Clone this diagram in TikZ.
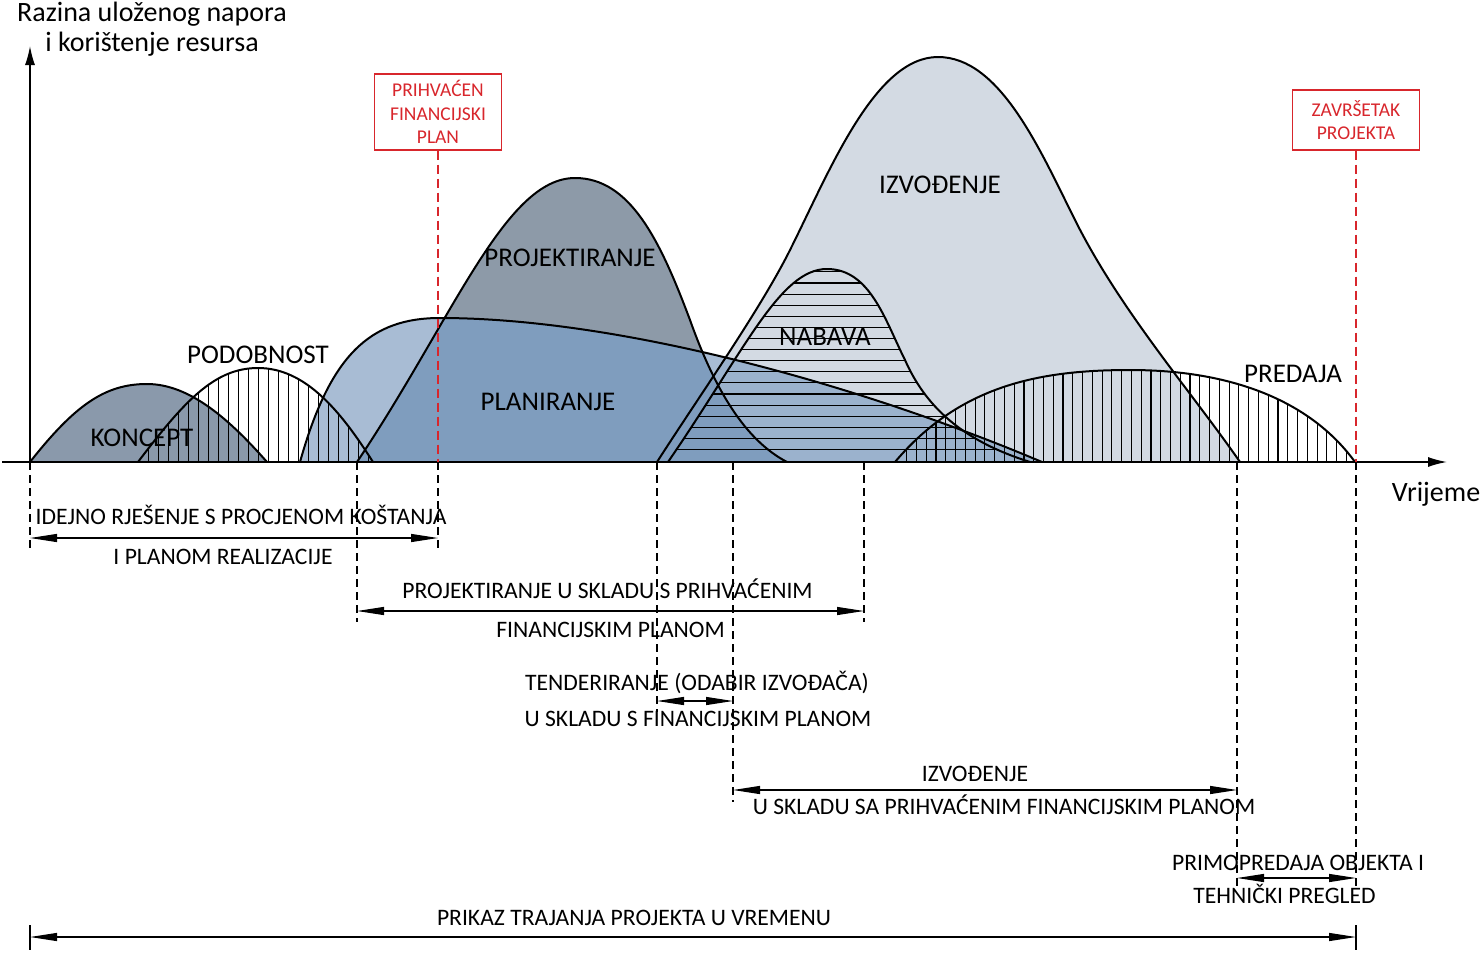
\documentclass[tikz,border=0pt]{standalone}
\usepackage{fontspec}
\setmainfont{Carlito}
\usetikzlibrary{arrows.meta}
\definecolor{konC}{HTML}{8A99AB}
\definecolor{projC}{HTML}{8D9AA8}
\definecolor{planC}{HTML}{A8BCD4}
\definecolor{ovlC}{HTML}{7F9DBE}
\definecolor{izvC}{HTML}{D3DAE3}
\definecolor{planizvC}{HTML}{9BB2CD}
\definecolor{redC}{HTML}{D8262C}
\newcommand\myBig{\fontsize{27}{32}\selectfont}
\newcommand\myDim{\fontsize{23.6}{28}\selectfont}
\newcommand\myRed{\fontsize{19.5}{23.5}\selectfont}
\newcommand\myAx{\fontsize{28}{30}\selectfont}
\begin{document}
\begin{tikzpicture}[x=1pt,y=-1pt,
  curve/.style={line width=2pt, line join=round},
  hatch/.style={line width=1.1pt},
  vdash/.style={line width=1.1pt, dash pattern=on 8pt off 5pt},
  reddash/.style={line width=1.2pt, dash pattern=on 9pt off 5pt, draw=redC},
  redbox/.style={draw=redC, line width=1.3pt, text=redC, minimum width=127pt, align=center, font=\myRed, inner sep=0pt},
  dimarr/.style={line width=1.2pt, {Triangle[length=27pt,width=8pt]}-{Triangle[length=27pt,width=8pt]}},
  dimtxt/.style={font=\myDim, inner sep=0pt, text height=15.2pt, text depth=0pt},
  biglbl/.style={font=\myBig, inner sep=0pt, text height=17.4pt, text depth=0pt},
  axlbl/.style={font=\myAx, inner sep=0pt, anchor=base},
  axisarr/.style={line width=1.5pt, -{Latex[length=19pt,width=10pt]}},
  tick/.style={line width=1.2pt}]
\useasboundingbox (0,0) rectangle (1480,953);
\def\pKon{(30,462) .. controls (75,405) and (105,384) .. (147,384) .. controls (190,384) and (230,420) .. (267,462)}
\def\pPod{(138,462) .. controls (185,400) and (215,368) .. (258,368) .. controls (305,368) and (340,410) .. (373,462)}
\def\pPlan{(300,462) .. controls (330,355) and (370,318) .. (440,318) .. controls (620,318) and (860,385) .. (1042,462)}
\def\pProj{(357,462) .. controls (453,319) and (505,178) .. (575,178) .. controls (630,178) and (660,240) .. (690,320) .. controls (715,390) and (745,440) .. (787,462)}
\def\pIzv{(657,462) .. controls (700,395) and (760,310) .. (790,250) .. controls (830,170) and (875,57) .. (938,57) .. controls (1000,57) and (1040,150) .. (1075,220) .. controls (1120,310) and (1190,390) .. (1240,462)}
\def\pNab{(668,462) .. controls (745,350) and (780,269) .. (827,269) .. controls (870,269) and (885,320) .. (905,360) .. controls (925,405) and (960,440) .. (1030,462)}
\def\pPred{(895,462) .. controls (960,385) and (1040,370) .. (1130,370) .. controls (1230,370) and (1310,400) .. (1355,462)}
% fills
\fill[izvC] \pIzv -- cycle;
\fill[projC] \pProj -- cycle;
\fill[planC] \pPlan -- cycle;
\begin{scope}
  \clip \pIzv -- cycle;
  \fill[planizvC] \pPlan -- cycle;
\end{scope}
\begin{scope}
  \clip \pProj -- cycle;
  \fill[ovlC] \pPlan -- cycle;
\end{scope}
\fill[konC] \pKon -- cycle;
% hatches
\begin{scope}
  \clip \pPod -- cycle;
  \foreach \i in {0,...,23} \draw[hatch] ({148.3+10*\i},340) -- ++(0,130);
\end{scope}
\begin{scope}
  \clip \pPred -- cycle;
  \foreach \i in {0,...,47} \draw[hatch] ({906.7+9.77*\i},350) -- ++(0,120);
\end{scope}
\begin{scope}
  \clip \pNab -- cycle;
  \foreach \i in {0,...,17} \draw[hatch] (640,{449.5-11.1*\i}) -- (1060,{449.5-11.1*\i});
\end{scope}
% outlines
\draw[curve] \pKon;
\draw[curve] \pPod;
\draw[curve] \pPlan;
\draw[curve] \pProj;
\draw[curve] \pIzv;
\draw[curve] \pNab;
\draw[curve] \pPred;
% axes
\coordinate (xs) at (2,462);
\coordinate (xe) at (1447,462);
\coordinate (O) at (30,462);
\coordinate (ye) at (30,46);
\draw[axisarr] (xs) -- (xe);
\draw[axisarr] (O) -- (ye);
\node[axlbl] (ytitle1) at (152,21) {Razina uloženog napora};
\node[axlbl] (ytitle2) at (152,51) {i korištenje resursa};
\node[axlbl] (xtitle) at (1436,501) {Vrijeme};
% red milestones
\node[redbox, minimum height=76pt] (fin) at (438,112) {PRIHVAĆEN\\FINANCIJSKI\\PLAN};
\node[redbox, minimum height=60pt] (zav) at (1356,120) {ZAVRŠETAK\\PROJEKTA};
\coordinate (finB) at (438,462);
\coordinate (zavB) at (1356,462);
\draw[reddash] (fin.south) -- (finB);
\draw[reddash] (zav.south) -- (zavB);
% phase labels
\node[biglbl] (lKon) at (142,438) {KONCEPT};
\node[biglbl] (lPod) at (258,355) {PODOBNOST};
\node[biglbl] (lPlan) at (548,402) {PLANIRANJE};
\node[biglbl] (lProj) at (570,258) {PROJEKTIRANJE};
\node[biglbl] (lNab) at (825,337) {NABAVA};
\node[biglbl] (lIzv) at (940,185) {IZVOĐENJE};
\node[biglbl] (lPred) at (1293,374) {PREDAJA};
% dashed extension lines
\coordinate (v30e) at (30,548);
\coordinate (v438e) at (438,548);
\coordinate (v357) at (357,462);
\coordinate (v357e) at (357,622);
\coordinate (v864) at (864,462);
\coordinate (v864e) at (864,622);
\coordinate (v657) at (657,462);
\coordinate (v657e) at (657,712);
\coordinate (v733) at (733,462);
\coordinate (v733e) at (733,802);
\coordinate (v1237) at (1237,462);
\coordinate (v1237e) at (1237,888);
\coordinate (v1356e) at (1356,888);
\draw[vdash] (O) -- (v30e);
\draw[vdash] (finB) -- (v438e);
\draw[vdash] (v357) -- (v357e);
\draw[vdash] (v864) -- (v864e);
\draw[vdash] (v657) -- (v657e);
\draw[vdash] (v733) -- (v733e);
\draw[vdash] (v1237) -- (v1237e);
\draw[vdash] (zavB) -- (v1356e);
\coordinate (t1a) at (30,925);
\coordinate (t1b) at (30,950);
\coordinate (t2a) at (1356,925);
\coordinate (t2b) at (1356,950);
\draw[tick] (t1a) -- (t1b);
\draw[tick] (t2a) -- (t2b);
% dimension arrows
\coordinate (d1a) at (30,538);   \coordinate (d1b) at (438,538);
\coordinate (d2a) at (357,611);  \coordinate (d2b) at (864,611);
\coordinate (d3a) at (657,701);  \coordinate (d3b) at (733,701);
\coordinate (d4a) at (733,790);  \coordinate (d4b) at (1237,790);
\coordinate (d5a) at (1237,878); \coordinate (d5b) at (1356,878);
\coordinate (d6a) at (30,937);   \coordinate (d6b) at (1356,937);
\draw[dimarr] (d1a) -- (d1b);
\draw[dimarr] (d2a) -- (d2b);
\draw[dimarr] (d3a) -- (d3b);
\draw[dimarr] (d4a) -- (d4b);
\draw[dimarr] (d5a) -- (d5b);
\draw[dimarr] (d6a) -- (d6b);
% dimension texts
\node[dimtxt] (t1u) at (241,517) {IDEJNO RJEŠENJE S PROCJENOM KOŠTANJA};
\node[dimtxt] (t1l) at (223,557) {I PLANOM REALIZACIJE};
\node[dimtxt] (t2u) at (607.5,591) {PROJEKTIRANJE U SKLADU S PRIHVAĆENIM};
\node[dimtxt] (t2l) at (610.5,630) {FINANCIJSKIM PLANOM};
\node[dimtxt] (t3u) at (697,683) {TENDERIRANJE (ODABIR IZVOĐAČA)};
\node[dimtxt] (t3l) at (698,719) {U SKLADU S FINANCIJSKIM PLANOM};
\node[dimtxt] (t4u) at (975,774) {IZVOĐENJE};
\node[dimtxt] (t4l) at (1004,807) {U SKLADU SA PRIHVAĆENIM FINANCIJSKIM PLANOM};
\node[dimtxt] (t5u) at (1298,863) {PRIMOPREDAJA OBJEKTA I};
\node[dimtxt] (t5l) at (1284.5,896) {TEHNIČKI PREGLED};
\node[dimtxt] (t6u) at (634,918) {PRIKAZ TRAJANJA PROJEKTA U VREMENU};
\end{tikzpicture}
\end{document}
